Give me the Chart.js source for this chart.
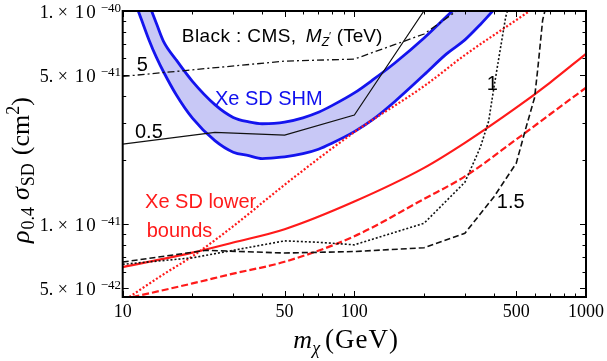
<!DOCTYPE html>
<html>
<head>
<meta charset="utf-8">
<script src="https://cdn.jsdelivr.net/npm/chart.js@4.4.1/dist/chart.umd.min.js"></script>
<style>
  html, body { margin: 0; padding: 0; background: #fff; }
  #wrap { width: 607px; height: 361px; }
</style>
</head>
<body>
<div id="wrap"><canvas id="chart" width="607" height="361"></canvas></div>
<script>
// Xe SD SHM band (GeV, cm^2)
const bandMass = [10, 11, 12, 13, 14, 15, 17, 20, 25, 30, 35, 40, 45, 50, 60, 70, 80, 100, 120, 150, 200, 250, 300, 350, 400, 500];
const shmUpper = [2.27e-40, 1.72e-40, 1.35e-40, 1.073e-40, 8.71e-41, 7.21e-41, 5.91e-41, 4.68e-41, 3.64e-41, 3.17e-41, 3.02e-41, 2.96e-41, 2.97e-41, 3.01e-41, 3.155e-41, 3.35e-41, 3.60e-41, 4.13e-41, 4.75e-41, 5.72e-41, 7.47e-41, 9.42e-41, 1.14e-40, 1.353e-40, 1.56e-40, 2.04e-40];
const shmLower = [1.52e-40, 1.185e-40, 9.22e-41, 7.30e-41, 6.04e-41, 5.19e-41, 4.06e-41, 3.146e-41, 2.466e-41, 2.178e-41, 2.098e-41, 2.032e-41, 2.048e-41, 2.068e-41, 2.143e-41, 2.249e-41, 2.40e-41, 2.72e-41, 3.094e-41, 3.776e-41, 5.02e-41, 6.29e-41, 7.32e-41, 8.65e-41, 1.011e-40, 1.277e-40];

// Xe SD lower bounds
const lowerMass = [10, 20, 30, 50, 100, 200, 300, 500, 700, 1000];
const xeSolid = [6.30e-42, 7.36e-42, 8.21e-42, 9.48e-42, 1.278e-41, 1.838e-41, 2.408e-41, 3.52e-41, 4.62e-41, 6.30e-41];
const xeDashed = [4.445e-42, 5.28e-42, 5.87e-42, 6.67e-42, 8.79e-42, 1.315e-41, 1.676e-41, 2.50e-41, 3.28e-41, 4.37e-41];
const dottedMass = [10, 15, 20, 30, 50, 100, 200, 300, 500, 700];
const xeDotted = [4.35e-42, 5.825e-42, 7.08e-42, 9.79e-42, 1.532e-41, 2.703e-41, 4.445e-41, 6.215e-41, 9.07e-41, 1.163e-40];

// CMS, M_Z' = 5, 0.5, 1, 1.5 TeV
const cms5Mass = [10, 50, 100, 150, 200, 250, 300];
const cms5 = [4.935e-41, 5.82e-41, 5.95e-41, 6.97e-41, 7.80e-41, 9.26e-41, 1.067e-40];
const cms05Mass = [10, 25, 50, 100, 200, 300];
const cms05 = [2.375e-41, 2.695e-41, 2.617e-41, 3.25e-41, 1.003e-40, 1.92e-40];
const cms1Mass = [10, 20, 30, 50, 70, 100, 200, 300, 350, 380, 400, 450, 500];
const cms1 = [6.49e-42, 6.96e-42, 7.55e-42, 8.36e-42, 8.23e-42, 8.01e-42, 1.011e-41, 1.574e-41, 2.298e-41, 3.045e-41, 4.35e-41, 9.37e-41, 1.398e-40];
const cms15Mass = [10, 23, 50, 100, 200, 300, 400, 500, 550, 600, 620, 650, 700];
const cms15 = [6.65e-42, 7.55e-42, 7.33e-42, 7.45e-42, 7.76e-42, 9.07e-42, 1.343e-41, 1.934e-41, 2.823e-41, 3.93e-41, 5.43e-41, 9.08e-41, 1.255e-40];

// axes
const xMajorTicks = [10, 50, 100, 500, 1000];
const xTickLabels = ['10', '50', '100', '500', '1000'];
const xMinorTicks = [20, 30, 40, 60, 70, 80, 90, 200, 300, 400, 600, 700, 800, 900];
const yMajorTicks = [1e-40, 5e-41, 1e-41, 5e-42];
const yTickMantissa = ['1.', '5.', '1.', '5.'];
const yTickExponent = ['\u221240', '\u221241', '\u221241', '\u221242'];
const yMinorTicks = [9e-41, 8e-41, 7e-41, 6e-41, 4e-41, 3e-41, 2e-41, 9e-42, 8e-42, 7e-42, 6e-42];

// in-plot labels: left edge and baseline in data units
const plotLabels = [
    { text: 'Xe SD SHM', x: 25.0, y: 3.62e-41, color: '#1010ee' },
    { text: 'Xe SD lower', x: 12.49, y: 1.19e-41, color: '#ff1a1a' },
    { text: 'bounds', x: 12.69, y: 8.75e-42, color: '#ff1a1a' },
    { text: '5', x: 11.49, y: 5.21e-41, color: '#000' },
    { text: '0.5', x: 11.3, y: 2.54e-41, color: '#000' },
    { text: '1', x: 373, y: 4.28e-41, color: '#000' },
    { text: '1.5', x: 412, y: 1.19e-41, color: '#000' }
];
const cmsLabelAt = { x: 18.0, y: 7.18e-41 };

function toPoints(xs, ys) {
    return xs.map((x, i) => ({ x: x, y: ys[i] }));
}

function drawRuns(ctx, x, y, runs) {
    runs.forEach(r => {
        ctx.font = r.font;
        ctx.letterSpacing = r.spacing || '0px';
        const px = r.at !== undefined ? r.at : x;
        ctx.fillText(r.text, px, y + (r.dy || 0));
        x = px + ctx.measureText(r.text).width + (r.gap || 0);
    });
    ctx.letterSpacing = '0px';
    return x;
}

const serif = '"Liberation Serif", "Times New Roman", serif';
const sans = '"Liberation Sans", Arial, sans-serif';

const decorations = {
    id: 'decorations',
    afterDatasetsDraw(chart) {
        const { ctx, chartArea: area, scales } = chart;
        const xs = scales.x, ys = scales.y;
        ctx.save();
        ctx.strokeStyle = '#000';
        ctx.lineWidth = 1;
        ctx.beginPath();
        const xTick = (v, len) => {
            const px = Math.round(xs.getPixelForValue(v)) + 0.5;
            ctx.moveTo(px, area.bottom); ctx.lineTo(px, area.bottom - len);
            ctx.moveTo(px, area.top); ctx.lineTo(px, area.top + len);
        };
        const yTick = (v, len) => {
            const py = Math.round(ys.getPixelForValue(v)) + 0.5;
            ctx.moveTo(area.left, py); ctx.lineTo(area.left + len, py);
            ctx.moveTo(area.right, py); ctx.lineTo(area.right - len, py);
        };
        xMajorTicks.forEach(v => xTick(v, 6));
        xMinorTicks.forEach(v => xTick(v, 3.5));
        yMajorTicks.forEach(v => yTick(v, 6));
        yMinorTicks.forEach(v => yTick(v, 3.5));
        ctx.stroke();

        ctx.lineWidth = 2;
        ctx.strokeRect(area.left, area.top, area.right - area.left, area.bottom - area.top);

        // tick labels
        ctx.fillStyle = '#000';
        ctx.textBaseline = 'alphabetic';
        ctx.textAlign = 'center';
        ctx.font = '18px ' + serif;
        xMajorTicks.forEach((v, i) => {
            ctx.fillText(xTickLabels[i], xs.getPixelForValue(v), area.bottom + 20);
        });
        ctx.textAlign = 'left';
        yMajorTicks.forEach((v, i) => {
            const py = ys.getPixelForValue(v);
            const x0 = area.left - 83;
            drawRuns(ctx, x0, py + 6.5, [
                { text: yTickMantissa[i], font: '18px ' + serif, at: x0 },
                { text: '\u00d7', font: '18px ' + serif, at: x0 + 18 },
                { text: '10', font: '19px ' + serif, at: x0 + 35, spacing: '2px' },
                { text: yTickExponent[i], font: '13px ' + serif, at: x0 + 61, dy: -6 }
            ]);
        });

        // axis titles
        const cx = (area.left + area.right) / 2;
        drawRuns(ctx, 0, area.bottom + 51, [
            { text: 'm', font: 'italic 26px ' + serif, at: cx - 61 },
            { text: '\u03c7', font: 'italic 18px ' + serif, dy: 6, gap: 5 },
            { text: '(GeV)', font: '27px ' + serif, spacing: '1px' }
        ]);
        ctx.save();
        ctx.translate(29, 243);
        ctx.rotate(-Math.PI / 2);
        drawRuns(ctx, 0, 0, [
            { text: '\u03c1', font: 'italic 26px ' + serif, gap: 1 },
            { text: '0.4', font: '18px ' + serif, dy: 5, gap: 7 },
            { text: '\u03c3', font: 'italic 26px ' + serif, gap: 1 },
            { text: 'SD', font: '18px ' + serif, dy: 5, gap: 8 },
            { text: '(cm', font: '26px ' + serif },
            { text: '2', font: '18px ' + serif, dy: -10 },
            { text: ')', font: '26px ' + serif }
        ]);
        ctx.restore();

        // labels inside the frame
        plotLabels.forEach(l => {
            ctx.fillStyle = l.color;
            ctx.font = '20px ' + sans;
            ctx.fillText(l.text, xs.getPixelForValue(l.x), ys.getPixelForValue(l.y));
        });
        ctx.fillStyle = '#000';
        const lx = xs.getPixelForValue(cmsLabelAt.x);
        const ly = ys.getPixelForValue(cmsLabelAt.y);
        drawRuns(ctx, lx, ly, [
            { text: 'Black : CMS,', font: '19px ' + sans, at: lx, spacing: '0.4px' },
            { text: 'M', font: 'italic 19px ' + sans, at: lx + 124 },
            { text: 'Z', font: 'italic 12px ' + sans, dy: 4 },
            { text: '\u2032', font: '11px ' + sans, dy: -2 },
            { text: '(TeV)', font: '19px ' + sans, at: lx + 155 }
        ]);
        ctx.restore();
    }
};

const blue = '#1414ee';
const red = '#ff1a1a';

new Chart(document.getElementById('chart'), {
    type: 'line',
    data: {
        datasets: [
            { data: toPoints(cms05Mass, cms05), borderColor: '#111', borderWidth: 1.2, fill: false },
            { data: toPoints(cms5Mass, cms5), borderColor: '#111', borderWidth: 1.3, borderDash: [7, 3, 2, 3], fill: false },
            { data: toPoints(cms1Mass, cms1), borderColor: '#111', borderWidth: 1.6, borderDash: [2, 2], fill: false },
            { data: toPoints(cms15Mass, cms15), borderColor: '#111', borderWidth: 1.6, borderDash: [6, 3], fill: false },
            { data: toPoints(lowerMass, xeSolid), borderColor: red, borderWidth: 2.2, cubicInterpolationMode: 'monotone', fill: false },
            { data: toPoints(lowerMass, xeDashed), borderColor: red, borderWidth: 2.2, borderDash: [7, 3], cubicInterpolationMode: 'monotone', fill: false },
            { data: toPoints(dottedMass, xeDotted), borderColor: red, borderWidth: 2.2, borderDash: [2, 2], cubicInterpolationMode: 'monotone', fill: false },
            { data: toPoints(bandMass, shmLower), borderColor: blue, borderWidth: 2.8, cubicInterpolationMode: 'monotone', fill: false },
            { data: toPoints(bandMass, shmUpper), borderColor: blue, borderWidth: 2.8, cubicInterpolationMode: 'monotone', fill: '-1', backgroundColor: '#c8c8f6' }
        ]
    },
    options: {
        responsive: false,
        animation: false,
        devicePixelRatio: 1,
        layout: { padding: { top: 11, right: 21, left: 0, bottom: 0 } },
        plugins: {
            legend: { display: false },
            tooltip: { enabled: false },
            filler: { drawTime: 'beforeDatasetsDraw' }
        },
        elements: { point: { radius: 0 }, line: { tension: 0 } },
        scales: {
            x: {
                type: 'logarithmic', min: 10, max: 1000,
                ticks: { display: false }, grid: { display: false }, border: { display: false },
                afterFit: s => { s.height = 64; }
            },
            y: {
                type: 'logarithmic', min: 4.56e-42, max: 1e-40,
                ticks: { display: false }, grid: { display: false }, border: { display: false },
                afterFit: s => { s.width = 122.7; }
            }
        }
    },
    plugins: [decorations]
});
</script>
</body>
</html>
